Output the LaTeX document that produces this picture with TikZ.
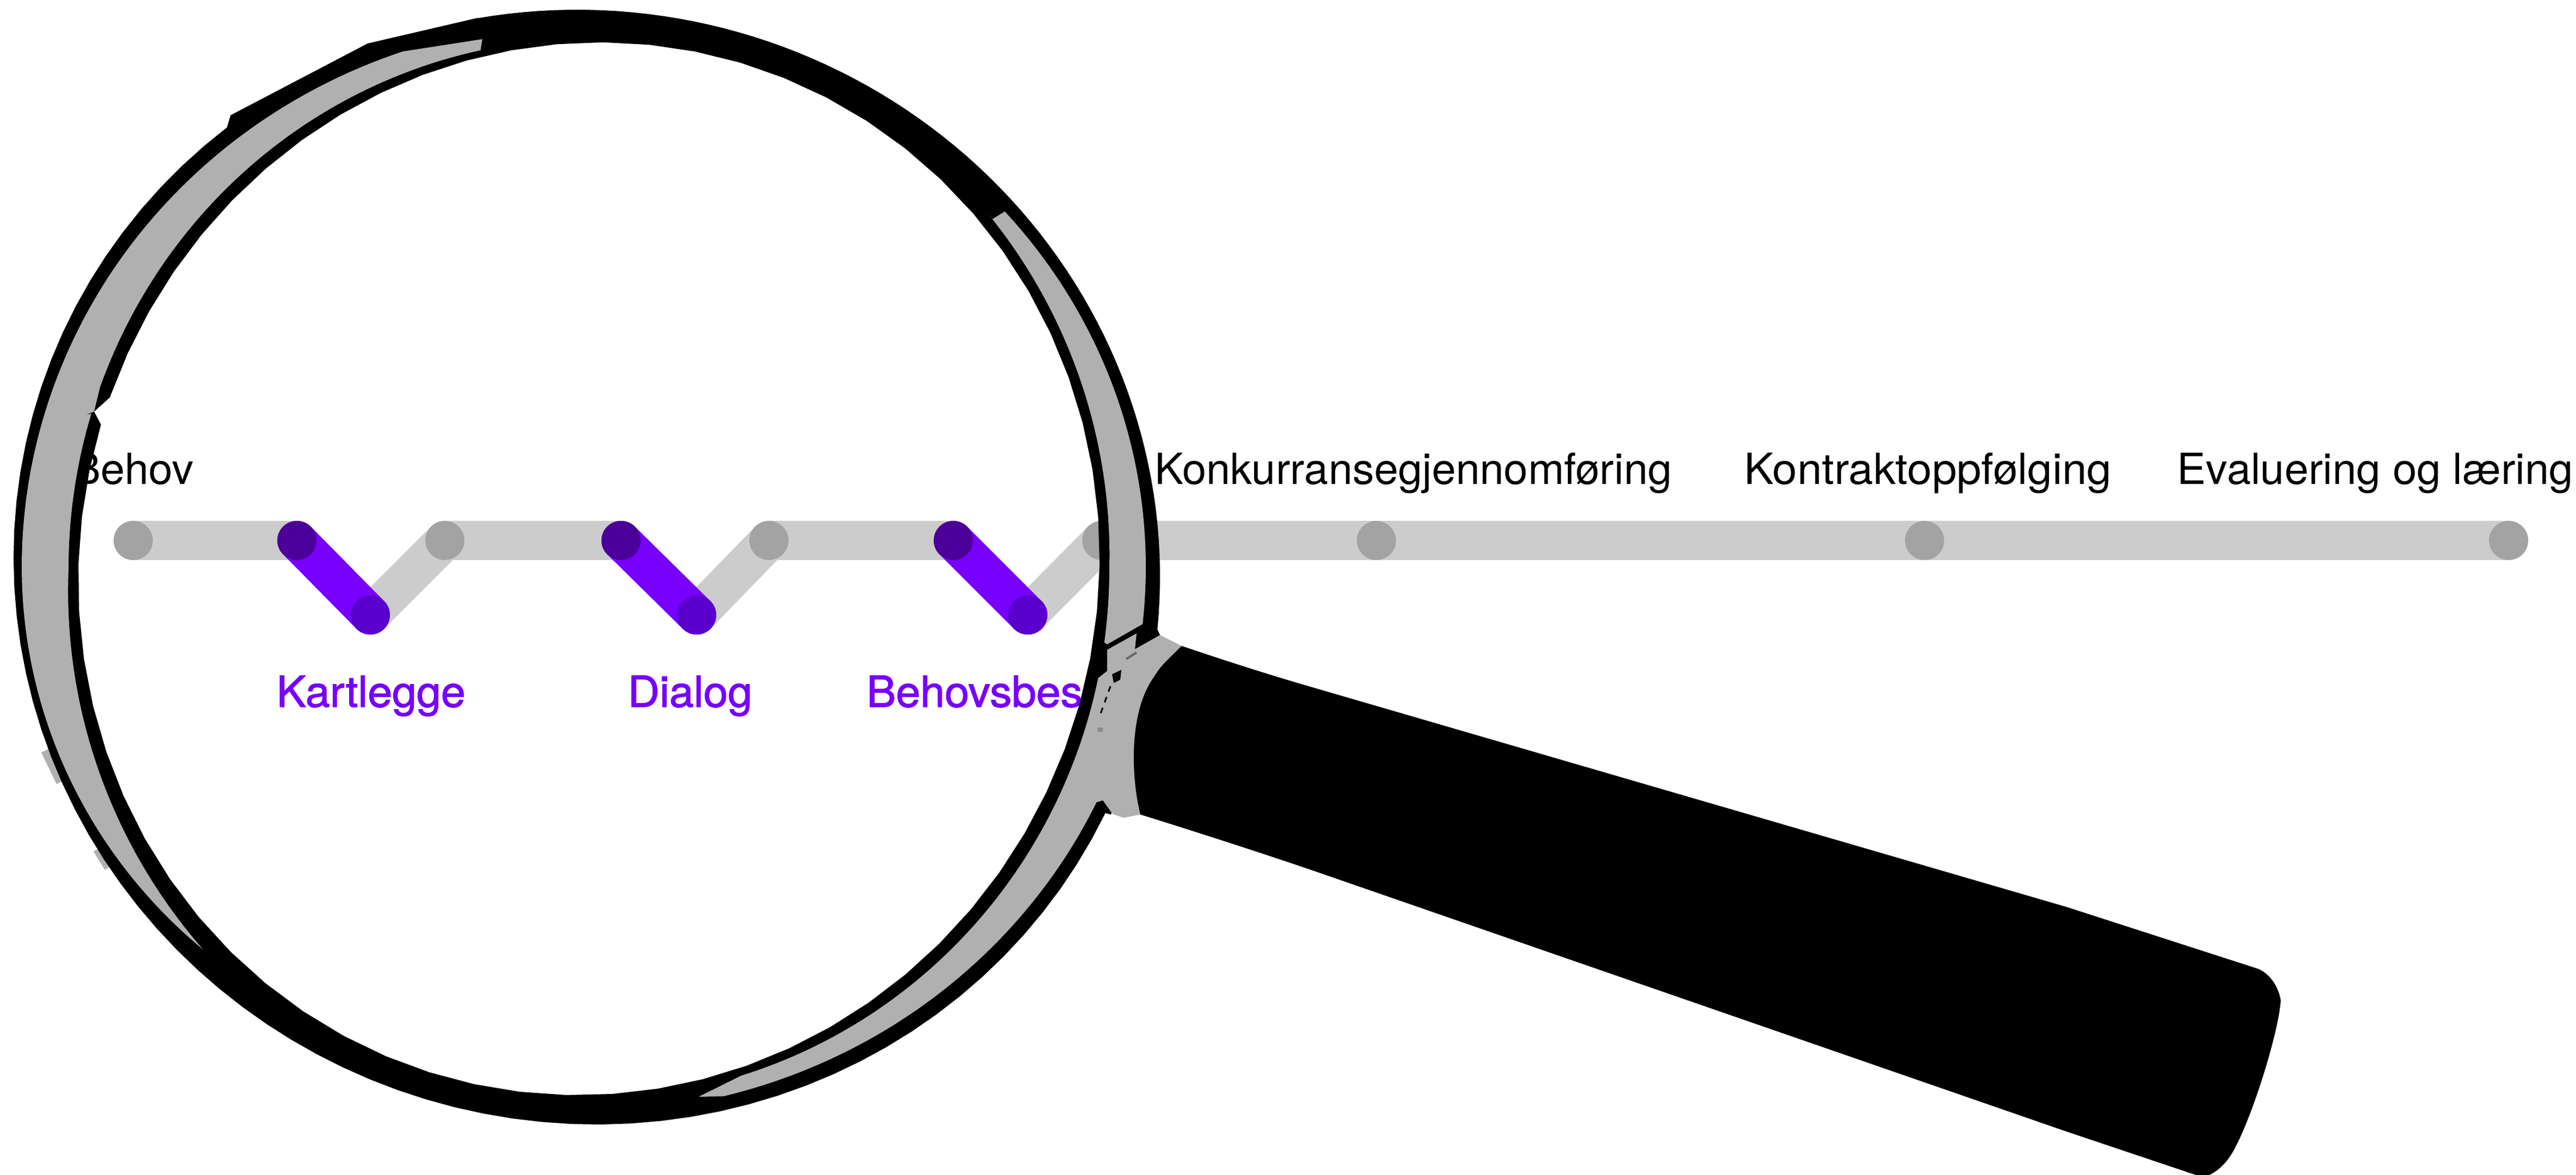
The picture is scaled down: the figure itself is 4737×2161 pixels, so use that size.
\documentclass[tikz,border=0pt]{standalone}
\usepackage{fontspec}
\setmainfont{TeX Gyre Heros}[FakeStretch=1.01]
\newfontfamily\widefont{TeX Gyre Heros}[FakeStretch=1.035]
\newfontfamily\medfont{TeX Gyre Heros}[FakeBold=1.6,FakeStretch=1.025]
\definecolor{rimgray}{HTML}{B0B0B0}
\definecolor{linegray}{HTML}{CCCCCC}
\definecolor{dotgray}{HTML}{A3A3A3}
\definecolor{violet1}{HTML}{7700FF}
\definecolor{violetA}{HTML}{4B0099}
\definecolor{violetB}{HTML}{5A00CC}
\tikzset{
  stage/.style={inner sep=0pt,anchor=base west,text=black,font=\fontsize{22.4}{24}\selectfont},
  substage/.style={inner sep=0pt,anchor=base west,text=violet1,font=\fontsize{22.4}{24}\selectfont\medfont},
  track/.style={draw=linegray,line width=7.2mm,line cap=round,line join=round},
  active/.style={draw=violet1,line width=7.2mm,line cap=round},
  black rim/.style={fill=black},
  gray rim/.style={fill=rimgray},
}
% #1,#2 centre; #3,#4 radii; #5 radial factor in \x; #6,#7 angles
\newcommand\rimarc[7]{-- plot[domain=#6:#7,samples=70,variable=\x] ({#1+#3*(#5)*cos(\x)},{#2+#4*(#5)*sin(\x)})}
\newcommand\outerarc[2]{\rimarc{1079}{1043}{1054}{1025}{1+0.0085*sin(2*\x)}{#1}{#2}}
\newcommand\lensarc[2]{\rimarc{1083}{1046}{939}{968}{1-0.011*sin(2*\x)}{#1}{#2}}
\begin{document}
\begin{tikzpicture}[x=0.01cm,y=-0.01cm]
\useasboundingbox[fill=white] (0,0) rectangle (4737,2161);
% process line
\coordinate (p0) at (245,994);
\coordinate (p1) at (546,994);
\coordinate (p2) at (681,1131);
\coordinate (p3) at (818,994);
\coordinate (p4) at (1142,994);
\coordinate (p5) at (1281,1131);
\coordinate (p6) at (1414,994);
\coordinate (p7) at (1753,994);
\coordinate (p8) at (1890,1131);
\coordinate (p9) at (2026,994);
\coordinate (p10) at (2531,994);
\coordinate (p11) at (3539,994);
\coordinate (p12) at (4613,994);
\draw[track] (p0)--(p1) (p2)--(p3)--(p4) (p5)--(p6)--(p7) (p8)--(p9)--(p12);
\foreach \n in {0,3,6,9,10,11,12} \fill[dotgray] (p\n) circle (36);
\draw[active] (p1)--(p2);
\draw[active] (p4)--(p5);
\draw[active] (p7)--(p8);
\foreach \n in {1,4,7} \fill[violetA] (p\n) circle (36);
\foreach \n in {2,5,8} \fill[violetB] (p\n) circle (36);
% labels
\node[stage,anchor=base east] (behov) at (357,890) {Behov};
\node[stage] (konk) at (2123,890) {Konkurransegjennomføring};
\node[stage] (kontr) at (3207,890) {\widefont Kontraktoppfølging};
\node[stage] (eval) at (4003,890) {Evaluering og læring};
\node[substage] (kart) at (508,1300) {Kartlegge};
\node[substage,anchor=base] (dial) at (1269,1300) {Dialog};
\node[substage] (behb) at (1593,1300) {Behovsbes};
% slivers just outside the rim
\fill[gray rim] (76,1384) -- (104,1442) -- (130,1430) -- (100,1372) -- cycle;
\fill[gray rim] (172,1566) -- (193,1600) -- (215,1585) -- (195,1552) -- cycle;
% rim, black with the lens as a hole
\fill[black rim,even odd rule]
  (878,33) \outerarc{-101}{6.4} -- (2133,1168) -- (2100,1300) -- (2043,1498)
  \outerarc{26}{231.5} -- (424,212) -- (676,80) -- cycle
  (203,730) \lensarc{199.2}{556} -- (173,757) -- cycle;
% rim, grey bands
\fill[gray rim]
  (887,72) -- (884,90)
  \rimarc{1083}{1046}{957}{975}{1}{258}{200}
  -- (173,757) -- (158,763)
  \rimarc{1083}{1046}{957}{975}{1}{197}{180}
  \rimarc{1083}{1046}{957}{975}{1+0.00073*(180-\x)}{180}{136}
  \rimarc{1079}{1043}{1039}{1003}{1-0.024*((180-\x)/46)^2}{134}{180}
  \rimarc{1079}{1043}{1039}{1003}{1}{180}{251}
  -- cycle;
\fill[gray rim]
  (1825,403) -- (1846,390)
  \rimarc{1079}{1043}{1028}{985}{1}{-41.6}{6.1}
  -- (2036,1185)
  \rimarc{1083}{1046}{957}{975}{1+0.00045*max(-\x,0)}{8}{-41}
  -- cycle;
\fill[gray rim]
  (2036,1195) -- (2090,1165) -- (2087,1194) -- (2133,1168) -- (2173,1188) -- (2122,1245) -- (2087,1372) -- (2097,1498)
  -- (2066,1504) -- (2046,1497) -- (2028,1472) -- (2018,1475)
  \rimarc{1079}{1043}{1039}{1003}{1}{25.5}{76}
  -- (1285,2017)
  \rimarc{1083}{1046}{957}{975}{1}{73}{11.9}
  -- (2036,1234) -- cycle;
% marks on the collar
\fill[black] (2045,1240) -- (2062,1232) -- (2060,1250) -- (2048,1256) -- cycle;
\draw[black,line width=0.3mm,dashed] (2042,1262) -- (2024,1312);
\draw[black!60,line width=0.4mm] (2071,1212) -- (2090,1200);
\fill[black!45] (2018,1338) rectangle (2028,1346);
% handle
\fill[black]
  (2173,1188) .. controls (2250,1214) and (2330,1240) .. (2420,1266) -- (3800,1668) -- (4153,1782)
  .. controls (4175,1792) and (4190,1815) .. (4194,1840)
  .. controls (4190,1900) and (4140,2060) .. (4105,2120)
  .. controls (4090,2145) and (4070,2161) .. (4050,2165)
  -- (3800,2081) -- (2420,1603) .. controls (2330,1572) and (2200,1530) .. (2097,1498)
  .. controls (2080,1430) and (2075,1310) .. (2122,1245)
  .. controls (2135,1225) .. (2173,1188) -- cycle;
\end{tikzpicture}
\end{document}
